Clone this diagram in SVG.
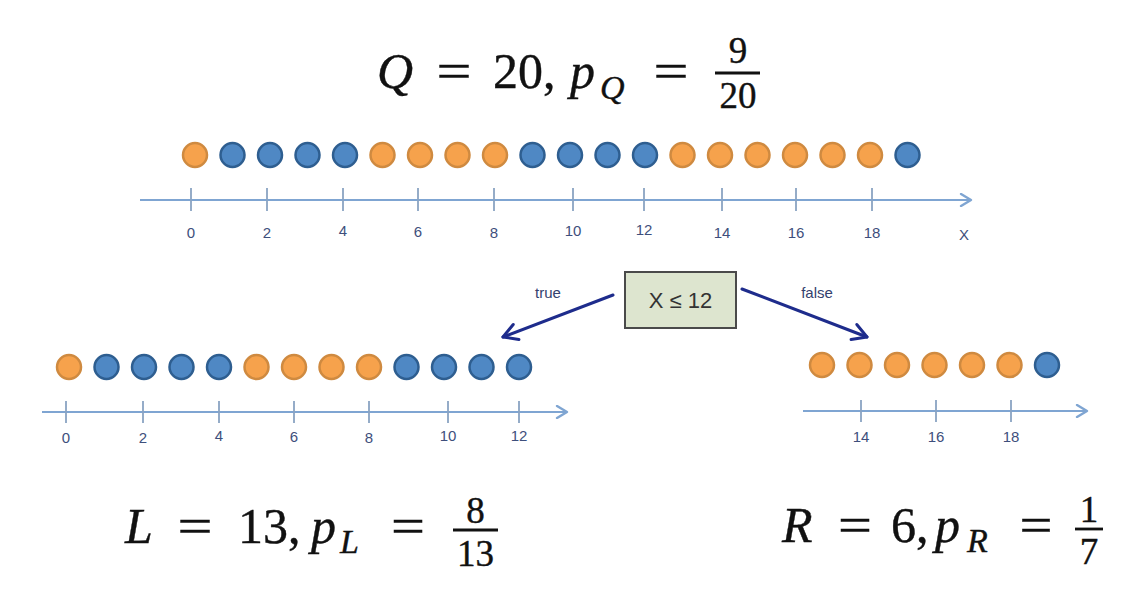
<svg xmlns="http://www.w3.org/2000/svg" width="1143" height="591" viewBox="0 0 1143 591">
<style>
.o{fill:#F6A24C;stroke:#CF8A40;stroke-width:2.5}
.b{fill:#4F88C4;stroke:#2E5E90;stroke-width:2.5}
.ax{stroke:#7FA5D2;stroke-width:2.2;fill:none}
.tk{stroke:#8AA3C2;stroke-width:1.8}
.tl{font-family:"Liberation Sans",Arial,sans-serif;font-size:15px;fill:#3E4F7C;text-anchor:middle}
.m{font-family:"Liberation Serif","Times New Roman",serif;fill:#111;stroke:#111;stroke-width:0.4}
.i{font-style:italic}
.conn{stroke:#1E2C8C;stroke-width:3;fill:none;stroke-linecap:round;stroke-linejoin:round}
.lbl{font-family:"Liberation Sans",Arial,sans-serif;font-size:15px;fill:#34416E;text-anchor:middle}
</style>
<defs>
<marker id="ah" viewBox="0 0 14 14" refX="12" refY="7" markerWidth="14" markerHeight="14" markerUnits="userSpaceOnUse" orient="auto">
<path d="M2,1 L12,7 L2,13" fill="none" stroke="#7FA5D2" stroke-width="2.4" stroke-linecap="round" stroke-linejoin="round"/>
</marker>
<marker id="ah2" viewBox="0 0 20 20" refX="17" refY="10" markerWidth="20" markerHeight="20" markerUnits="userSpaceOnUse" orient="auto">
<path d="M3,2 L17,10 L3,18" fill="none" stroke="#1E2C8C" stroke-width="3" stroke-linecap="round" stroke-linejoin="round"/>
</marker>
</defs>
<rect width="1143" height="591" fill="#FFFFFF"/>

<g id="formula-top" class="m">
<text x="377" y="88" font-size="50" class="i">Q</text>
<text x="454" y="88" font-size="50" text-anchor="middle" textLength="35" lengthAdjust="spacingAndGlyphs">=</text>
<text x="493" y="88" font-size="50">20,</text>
<text x="570" y="88" font-size="50" class="i">p</text>
<text x="600" y="99" font-size="34" class="i">Q</text>
<text x="671" y="88" font-size="50" text-anchor="middle" textLength="35" lengthAdjust="spacingAndGlyphs">=</text>
<line x1="715" y1="73" x2="760" y2="73" stroke="#111" stroke-width="2.8"/>
<text x="738" y="63" font-size="37" text-anchor="middle">9</text>
<text x="738" y="108" font-size="37" text-anchor="middle">20</text>
</g>

<g id="top-row">
<circle class="o" cx="195" cy="155" r="12"/>
<circle class="b" cx="232.5" cy="155" r="12"/>
<circle class="b" cx="270" cy="155" r="12"/>
<circle class="b" cx="307.5" cy="155" r="12"/>
<circle class="b" cx="345" cy="155" r="12"/>
<circle class="o" cx="382.5" cy="155" r="12"/>
<circle class="o" cx="420" cy="155" r="12"/>
<circle class="o" cx="457.5" cy="155" r="12"/>
<circle class="o" cx="495" cy="155" r="12"/>
<circle class="b" cx="532.5" cy="155" r="12"/>
<circle class="b" cx="570" cy="155" r="12"/>
<circle class="b" cx="607.5" cy="155" r="12"/>
<circle class="b" cx="645" cy="155" r="12"/>
<circle class="o" cx="682.5" cy="155" r="12"/>
<circle class="o" cx="720" cy="155" r="12"/>
<circle class="o" cx="757.5" cy="155" r="12"/>
<circle class="o" cx="795" cy="155" r="12"/>
<circle class="o" cx="832.5" cy="155" r="12"/>
<circle class="o" cx="870" cy="155" r="12"/>
<circle class="b" cx="907.5" cy="155" r="12"/>
</g>

<g id="top-axis">
<line class="ax" x1="140" y1="200" x2="971" y2="200" marker-end="url(#ah)"/>
<g class="tk">
<line x1="191" y1="188" x2="191" y2="211"/>
<line x1="267" y1="188" x2="267" y2="211"/>
<line x1="343" y1="188" x2="343" y2="211"/>
<line x1="418" y1="188" x2="418" y2="211"/>
<line x1="494" y1="188" x2="494" y2="211"/>
<line x1="573" y1="188" x2="573" y2="211"/>
<line x1="644" y1="188" x2="644" y2="211"/>
<line x1="722" y1="188" x2="722" y2="211"/>
<line x1="796" y1="188" x2="796" y2="211"/>
<line x1="872" y1="188" x2="872" y2="211"/>
</g>
<text class="tl" x="191" y="238">0</text>
<text class="tl" x="267" y="238">2</text>
<text class="tl" x="343" y="236">4</text>
<text class="tl" x="418" y="237">6</text>
<text class="tl" x="494" y="238">8</text>
<text class="tl" x="573" y="236">10</text>
<text class="tl" x="644" y="235">12</text>
<text class="tl" x="722" y="238">14</text>
<text class="tl" x="796" y="238">16</text>
<text class="tl" x="872" y="238">18</text>
<text class="tl" x="964" y="240">X</text>
</g>

<g id="split-node">
<rect x="625" y="272" width="111" height="56" fill="#DDE5CF" stroke="#4A4A4A" stroke-width="2"/>
<text x="680.5" y="308" font-family="'Liberation Sans',Arial,'DejaVu Sans',sans-serif" font-size="22" fill="#333" text-anchor="middle">X ≤ 12</text>
</g>

<g id="connectors">
<line class="conn" x1="613" y1="295" x2="503" y2="337" marker-end="url(#ah2)"/>
<line class="conn" x1="742" y1="289" x2="867" y2="337" marker-end="url(#ah2)"/>
<text class="lbl" x="548" y="298">true</text>
<text class="lbl" x="817" y="298">false</text>
</g>

<g id="left-row">
<circle class="o" cx="69" cy="367" r="12"/>
<circle class="b" cx="106.5" cy="367" r="12"/>
<circle class="b" cx="144" cy="367" r="12"/>
<circle class="b" cx="181.5" cy="367" r="12"/>
<circle class="b" cx="219" cy="367" r="12"/>
<circle class="o" cx="256.5" cy="367" r="12"/>
<circle class="o" cx="294" cy="367" r="12"/>
<circle class="o" cx="331.5" cy="367" r="12"/>
<circle class="o" cx="369" cy="367" r="12"/>
<circle class="b" cx="406.5" cy="367" r="12"/>
<circle class="b" cx="444" cy="367" r="12"/>
<circle class="b" cx="481.5" cy="367" r="12"/>
<circle class="b" cx="519" cy="367" r="12"/>
</g>

<g id="left-axis">
<line class="ax" x1="42" y1="412" x2="567" y2="412" marker-end="url(#ah)"/>
<g class="tk">
<line x1="66" y1="401" x2="66" y2="423"/>
<line x1="143" y1="401" x2="143" y2="423"/>
<line x1="219" y1="401" x2="219" y2="423"/>
<line x1="294" y1="401" x2="294" y2="423"/>
<line x1="369" y1="401" x2="369" y2="423"/>
<line x1="448" y1="401" x2="448" y2="423"/>
<line x1="519" y1="401" x2="519" y2="423"/>
</g>
<text class="tl" x="66" y="443">0</text>
<text class="tl" x="143" y="443">2</text>
<text class="tl" x="219" y="441">4</text>
<text class="tl" x="294" y="442">6</text>
<text class="tl" x="369" y="443">8</text>
<text class="tl" x="448" y="441">10</text>
<text class="tl" x="519" y="441">12</text>
</g>

<g id="right-row">
<circle class="o" cx="822" cy="365" r="12"/>
<circle class="o" cx="859.5" cy="365" r="12"/>
<circle class="o" cx="897" cy="365" r="12"/>
<circle class="o" cx="934.5" cy="365" r="12"/>
<circle class="o" cx="972" cy="365" r="12"/>
<circle class="o" cx="1009.5" cy="365" r="12"/>
<circle class="b" cx="1047" cy="365" r="12"/>
</g>

<g id="right-axis">
<line class="ax" x1="803" y1="411" x2="1087" y2="411" marker-end="url(#ah)"/>
<g class="tk">
<line x1="861" y1="400" x2="861" y2="422"/>
<line x1="936" y1="400" x2="936" y2="422"/>
<line x1="1011" y1="400" x2="1011" y2="422"/>
</g>
<text class="tl" x="861" y="442">14</text>
<text class="tl" x="936" y="442">16</text>
<text class="tl" x="1011" y="442">18</text>
</g>

<g id="formula-left" class="m">
<text x="125" y="543" font-size="50" class="i">L</text>
<text x="195" y="543" font-size="50" text-anchor="middle" textLength="35" lengthAdjust="spacingAndGlyphs">=</text>
<text x="238" y="543" font-size="50">13,</text>
<text x="311" y="543" font-size="50" class="i">p</text>
<text x="340" y="553" font-size="34" class="i">L</text>
<text x="408" y="543" font-size="50" text-anchor="middle" textLength="34" lengthAdjust="spacingAndGlyphs">=</text>
<line x1="453" y1="530" x2="498" y2="530" stroke="#111" stroke-width="2.8"/>
<text x="475.5" y="523" font-size="37" text-anchor="middle">8</text>
<text x="475.5" y="566" font-size="37" text-anchor="middle">13</text>
</g>

<g id="formula-right" class="m">
<text x="782" y="542" font-size="50" class="i">R</text>
<text x="855" y="542" font-size="50" text-anchor="middle" textLength="34" lengthAdjust="spacingAndGlyphs">=</text>
<text x="891" y="542" font-size="50">6,</text>
<text x="935" y="542" font-size="50" class="i">p</text>
<text x="967" y="552" font-size="34" class="i">R</text>
<text x="1036" y="542" font-size="50" text-anchor="middle" textLength="33" lengthAdjust="spacingAndGlyphs">=</text>
<line x1="1075" y1="529" x2="1103" y2="529" stroke="#111" stroke-width="2.8"/>
<text x="1089" y="522" font-size="37" text-anchor="middle">1</text>
<text x="1089" y="564" font-size="37" text-anchor="middle">7</text>
</g>
</svg>
